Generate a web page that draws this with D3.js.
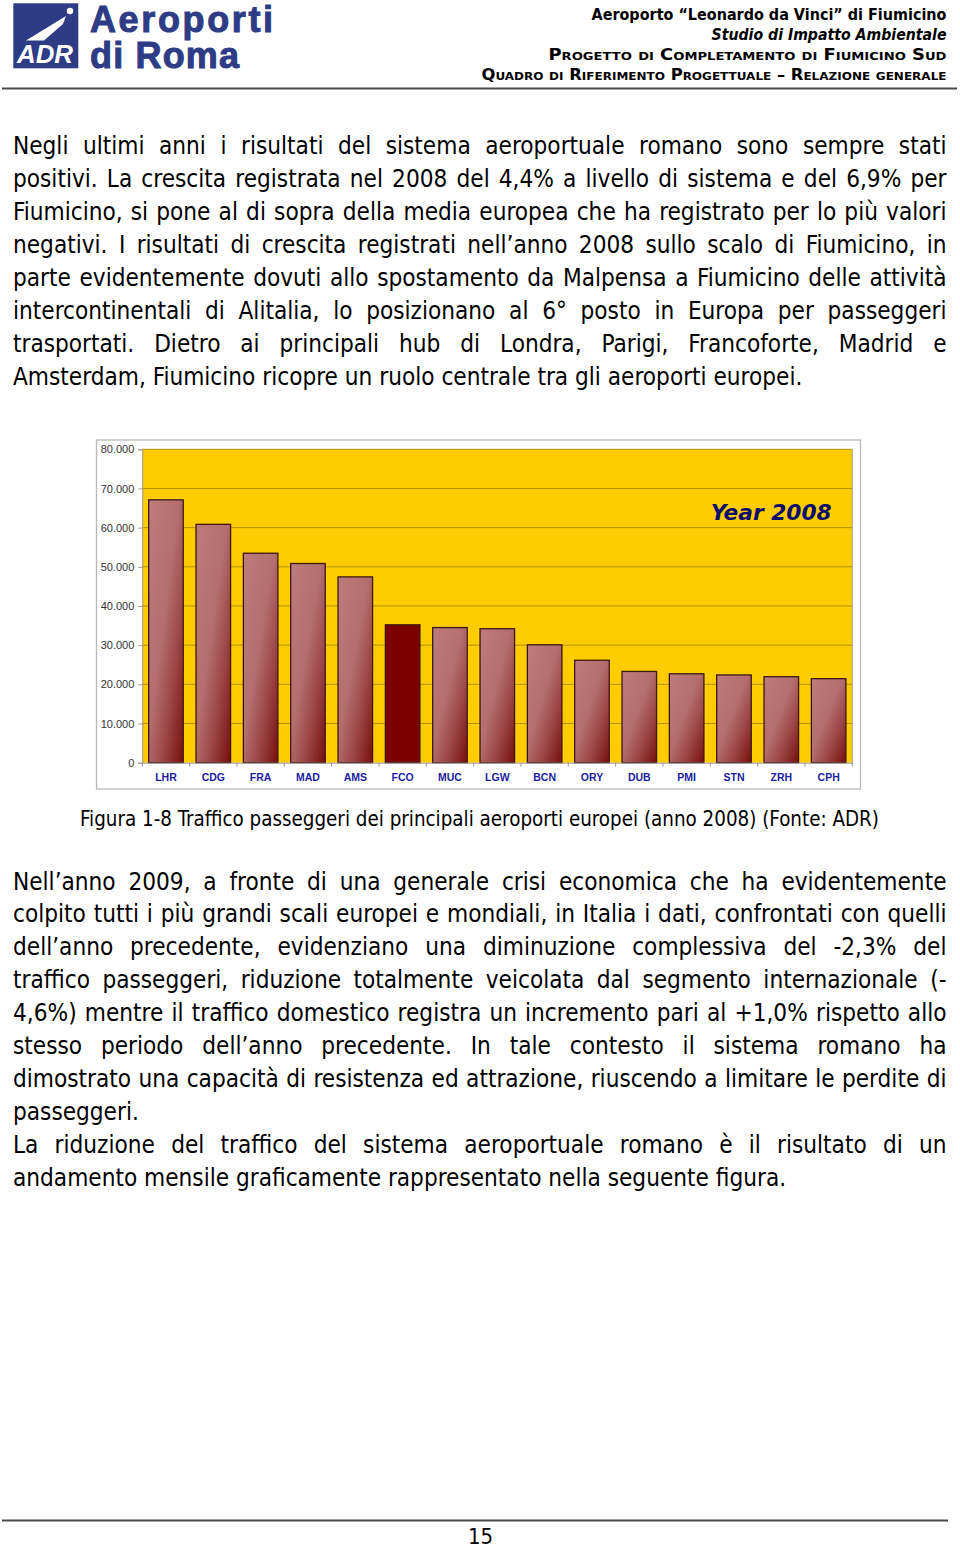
<!DOCTYPE html>
<html><head><meta charset="utf-8">
<script src="https://cdn.jsdelivr.net/npm/d3@7"></script>
<style>
html,body{margin:0;padding:0;background:#fff;}
svg{display:block;}
</style></head><body>
<script>
// ---------------- DATA ----------------
const categories = ["LHR","CDG","FRA","MAD","AMS","FCO","MUC","LGW","BCN","ORY","DUB","PMI","STN","ZRH","CPH"];
const passengers = [67100,60850,53470,50850,47430,35200,34500,34200,30100,26150,23300,22700,22400,21950,21450];
const highlightCategory = "FCO";
const yTickValues = [0,10000,20000,30000,40000,50000,60000,70000,80000];
const yTickLabels = ["0","10.000","20.000","30.000","40.000","50.000","60.000","70.000","80.000"];
const chartLabel = "Year 2008";

const headerTitle = "Aeroporto \u201CLeonardo da Vinci\u201D di Fiumicino";
const headerSubtitle = "Studio di Impatto Ambientale";
const headerLine3 = "Progetto di Completamento di Fiumicino Sud";
const headerLine4 = "Quadro di Riferimento Progettuale \u2013 Relazione generale";
const logoWords = ["Aeroporti","di Roma","ADR"];

const paragraph1 = [
  "Negli ultimi anni i risultati del sistema aeroportuale romano sono sempre stati",
  "positivi. La crescita registrata nel 2008 del 4,4% a livello di sistema e del 6,9% per",
  "Fiumicino, si pone al di sopra della media europea che ha registrato per lo più valori",
  "negativi. I risultati di crescita registrati nell\u2019anno 2008 sullo scalo di Fiumicino, in",
  "parte evidentemente dovuti allo spostamento da Malpensa a Fiumicino delle attività",
  "intercontinentali di Alitalia, lo posizionano al 6° posto in Europa per passeggeri",
  "trasportati. Dietro ai principali hub di Londra, Parigi, Francoforte, Madrid e",
  "Amsterdam, Fiumicino ricopre un ruolo centrale tra gli aeroporti europei."
];
const paragraph2 = [
  "Nell\u2019anno 2009, a fronte di una generale crisi economica che ha evidentemente",
  "colpito tutti i più grandi scali europei e mondiali, in Italia i dati, confrontati con quelli",
  "dell\u2019anno precedente, evidenziano una diminuzione complessiva del -2,3% del",
  "traffico passeggeri, riduzione totalmente veicolata dal segmento internazionale (-",
  "4,6%) mentre il traffico domestico registra un incremento pari al +1,0% rispetto allo",
  "stesso periodo dell\u2019anno precedente. In tale contesto il sistema romano ha",
  "dimostrato una capacità di resistenza ed attrazione, riuscendo a limitare le perdite di",
  "passeggeri.",
  "La riduzione del traffico del sistema aeroportuale romano è il risultato di un",
  "andamento mensile graficamente rappresentato nella seguente figura."
];
const paragraph2LastLines = [7, 9];
const caption = "Figura 1-8 Traffico passeggeri dei principali aeroporti europei (anno 2008) (Fonte: ADR)";
const pageNumber = "15";

// ---------------- LAYOUT ----------------
const W = 960, H = 1549;
const svg = d3.select("body").append("svg").attr("width", W).attr("height", H);
svg.append("rect").attr("width", W).attr("height", H).attr("fill", "#fff");

const FAM = "'DejaVu Sans Condensed','DejaVu Sans',sans-serif";
const meas = svg.append("text").attr("visibility", "hidden");
function measure(str, style) { meas.attr("style", style).text(str); return meas.node().getComputedTextLength(); }
function bodyStyle(fs) { return `font-family:${FAM};font-stretch:condensed;font-size:${fs}px;fill:#000`; }

const fs0 = 20;
const bodyFs = fs0 * 790 / measure(paragraph1[7], bodyStyle(fs0));
const BS = bodyStyle(bodyFs);

function drawLine(str, x0, x1, y, style, justify) {
  const t = svg.append("text").attr("y", y).attr("style", style);
  if (!justify) { t.attr("x", x0).text(str); return; }
  const words = str.split(" ");
  const widths = words.map(w => measure(w, style));
  const gap = (x1 - x0 - d3.sum(widths)) / (words.length - 1);
  let x = x0;
  words.forEach((w, i) => { t.append("tspan").attr("x", x).text(w); x += widths[i] + gap; });
}

// ---------------- HEADER ----------------
const blue = "#2e3c86";
svg.append("rect").attr("x", 13.3).attr("y", 3.3).attr("width", 65).attr("height", 65).attr("fill", blue);
svg.append("path").attr("d", "M26,40.5 L66,16 L63,24 L44,40.5 Z").attr("fill", "#fff");
svg.append("circle").attr("cx", 70).attr("cy", 11).attr("r", 3.2).attr("fill", "#fff");
svg.append("text").attr("x", 17).attr("y", 63).attr("textLength", 56).attr("lengthAdjust", "spacingAndGlyphs")
  .attr("style", "font-family:'Liberation Sans',Arial,sans-serif;font-weight:bold;font-style:italic;font-size:25px;fill:#fff").text(logoWords[2]);

const logoStyle = `font-family:'Liberation Sans',Arial,sans-serif;font-weight:bold;font-size:36px;fill:${blue};stroke:${blue};stroke-width:1`;
const logoText = svg.append("text").attr("style", logoStyle);
[[logoWords[0], 31.7, 183], [logoWords[1], 68, 149]].forEach(([w, yy, target]) => {
  const nat = measure(w, logoStyle);
  logoText.append("tspan").attr("x", 90).attr("y", yy)
    .attr("letter-spacing", ((target - nat) / (w.length - 1)) + "px").text(w);
});

const hdr = [
  {t: headerTitle, y: 20, w: 355, st: `font-family:${FAM};font-weight:bold;font-size:15px`},
  {t: headerSubtitle, y: 39.5, w: 235, st: `font-family:${FAM};font-weight:bold;font-style:italic;font-size:15px`},
  {t: headerLine3, y: 59.5, w: 398, st: `font-family:${FAM};font-weight:bold;font-variant:small-caps;font-size:15px`},
  {t: headerLine4, y: 79.5, w: 465, st: `font-family:${FAM};font-weight:bold;font-variant:small-caps;font-size:15px`}
];
hdr.forEach(h => {
  svg.append("text").attr("x", 946.5).attr("y", h.y).attr("text-anchor", "end")
    .attr("textLength", h.w).attr("lengthAdjust", "spacingAndGlyphs")
    .attr("style", h.st + ";fill:#000").text(h.t);
});
svg.append("line").attr("x1", 2).attr("x2", 957).attr("y1", 88.5).attr("y2", 88.5)
  .attr("stroke", "#4a4a4a").attr("stroke-width", 2);

// ---------------- BODY TEXT ----------------
const L = 13, R = 946.5;
paragraph1.forEach((s, i) => drawLine(s, L, R, 154 + i * 33, BS, i < paragraph1.length - 1));
paragraph2.forEach((s, i) => drawLine(s, L, R, 889.5 + i * 32.9, BS, !paragraph2LastLines.includes(i)));

const capFs = bodyFs * 799 / measure(caption, BS);
svg.append("text").attr("x", 479.5).attr("y", 826).attr("text-anchor", "middle")
  .attr("style", bodyStyle(capFs)).text(caption);

// footer
svg.append("line").attr("x1", 2).attr("x2", 948).attr("y1", 1520.5).attr("y2", 1520.5)
  .attr("stroke", "#4a4a4a").attr("stroke-width", 2);
svg.append("text").attr("x", 480.5).attr("y", 1543.5).attr("text-anchor", "middle")
  .attr("style", bodyStyle(22)).text(pageNumber);

// ---------------- CHART ----------------
const plot = {left: 142.3, right: 852.3, top: 449.3, bottom: 762.7};
const x = d3.scaleBand().domain(categories).range([plot.left, plot.right]).paddingInner(0.27).paddingOuter(0.135);
const y = d3.scaleLinear().domain([0, 80000]).range([plot.bottom, plot.top]);

const defs = svg.append("defs");
const grad = defs.append("linearGradient").attr("id", "barGrad").attr("x1", 0).attr("y1", 0).attr("x2", 1).attr("y2", 1);
[[0, "#be7c7c"], [0.45, "#b46e6e"], [0.7, "#9b4646"], [1, "#780d0d"]].forEach(s =>
  grad.append("stop").attr("offset", s[0]).attr("stop-color", s[1]));

svg.append("rect").attr("x", 96.5).attr("y", 440).attr("width", 764).attr("height", 349)
  .attr("fill", "#fff").attr("stroke", "#b8b8b8").attr("stroke-width", 1.3);
svg.append("rect").attr("x", plot.left).attr("y", plot.top).attr("width", plot.right - plot.left)
  .attr("height", plot.bottom - plot.top).attr("fill", "#ffcc00");

svg.append("g").selectAll("line").data(yTickValues.slice(1)).join("line")
  .attr("x1", plot.left).attr("x2", plot.right).attr("y1", d => y(d)).attr("y2", d => y(d))
  .attr("stroke", "#b38f00").attr("stroke-width", 1);
svg.append("line").attr("x1", plot.right).attr("x2", plot.right).attr("y1", plot.top).attr("y2", plot.bottom)
  .attr("stroke", "#a0a0a0").attr("stroke-width", 1);

const yAxis = svg.append("g").attr("transform", `translate(${plot.left},0)`)
  .call(d3.axisLeft(y).tickValues(yTickValues).tickSize(4).tickPadding(4).tickFormat((d, i) => yTickLabels[i]));
yAxis.select(".domain").attr("stroke", "#999");
yAxis.selectAll(".tick line").attr("stroke", "#999");
yAxis.selectAll("text").attr("style", "font-family:'Liberation Sans',Arial,sans-serif;font-size:11px;fill:#333");

svg.append("g").selectAll("rect").data(categories).join("rect")
  .attr("x", d => x(d)).attr("width", x.bandwidth())
  .attr("y", (d, i) => y(passengers[i])).attr("height", (d, i) => y(0) - y(passengers[i]))
  .attr("fill", d => d === highlightCategory ? "#7d0000" : "url(#barGrad)")
  .attr("stroke", "#3e170c").attr("stroke-width", 1.3);

const xAxis = svg.append("g").attr("transform", `translate(0,${plot.bottom})`)
  .call(d3.axisBottom(x).tickSize(0).tickPadding(11));
xAxis.select(".domain").attr("stroke", "#999");
xAxis.selectAll("text").attr("style", "font-family:'Liberation Sans',Arial,sans-serif;font-weight:bold;font-size:10.5px;fill:#1c1ca0");
const edge = (x.step() - x.bandwidth()) / 2;
svg.append("g").selectAll("line").data(categories.concat(["__end"])).join("line")
  .attr("x1", (d, i) => i < categories.length ? x(d) - edge : x(categories[i - 1]) + x.bandwidth() + edge)
  .attr("x2", (d, i) => i < categories.length ? x(d) - edge : x(categories[i - 1]) + x.bandwidth() + edge)
  .attr("y1", plot.bottom).attr("y2", plot.bottom + 4).attr("stroke", "#999");

svg.append("text").attr("x", 710.7).attr("y", 519.5).attr("textLength", 121).attr("lengthAdjust", "spacingAndGlyphs")
  .attr("style", "font-family:'DejaVu Sans',Verdana,sans-serif;font-weight:bold;font-style:italic;font-size:22px;fill:#0c0c6a")
  .text(chartLabel);
</script>
</body></html>
